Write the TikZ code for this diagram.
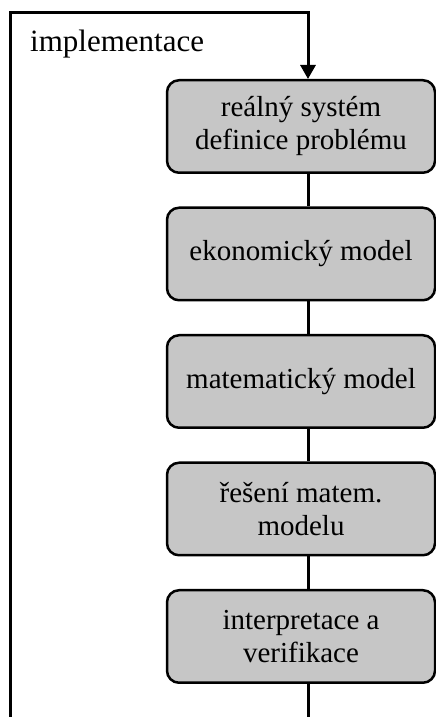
\documentclass[tikz,border=0pt]{standalone}
\usepackage{fontspec}
\setmainfont{Liberation Serif}
\usepackage{tikz}
\usetikzlibrary{positioning,arrows.meta}
\definecolor{boxgray}{RGB}{198,198,198}
\begin{document}
\begin{tikzpicture}[x=1pt,y=1pt]

		\tikzset{boxstyle/.style={draw,line width=2.5pt,rounded corners=12pt,fill=boxgray,minimum width=268pt,minimum height=92.5pt,align=center,inner sep=0pt,font=\fontsize{29}{33}\selectfont}}
		\tikzset{linkstyle/.style={-,line width=3pt}}
		\tikzset{loopstyle/.style={-{Triangle[width=15pt,length=14pt]},line width=3pt}}
		
		\newcommand\lineShift{7pt}
		\newcommand\boxGap{32.5pt}
		
		\useasboundingbox (0,0) rectangle (436,717);
		
		\node[boxstyle] at (301,590.5) (real) {reálný systém\\definice problému};
		\node[boxstyle, below=\boxGap of real] (ekon) {ekonomický model};
		\node[boxstyle, below=\boxGap of ekon] (mat) {matematický model};
		\node[boxstyle, below=\boxGap of mat] (res) {řešení matem.\\modelu};
		\node[boxstyle, below=\boxGap of res] (interp) {interpretace a\\verifikace};
		
		\node[anchor=base west, inner sep=0pt, font=\fontsize{31}{35}\selectfont] at (30,665) (impl) {implementace};
		
		\foreach \a/\b in {real/ekon,ekon/mat,mat/res,res/interp}
		{
			\draw[linkstyle] ([xshift=\lineShift]\a.south) -- ([xshift=\lineShift]\b.north);
		}
		
		% exit and feedback loop
		\coordinate (exitend) at (308,0);
		\coordinate (loopstart) at (10,0);
		\coordinate (loopcorner) at (10,704);
		\draw[linkstyle] ([xshift=\lineShift]interp.south) -- (exitend);
		\draw[loopstyle] (loopstart) -- (loopcorner) -| ([xshift=\lineShift]real.north);
	\end{tikzpicture}
\end{document}
